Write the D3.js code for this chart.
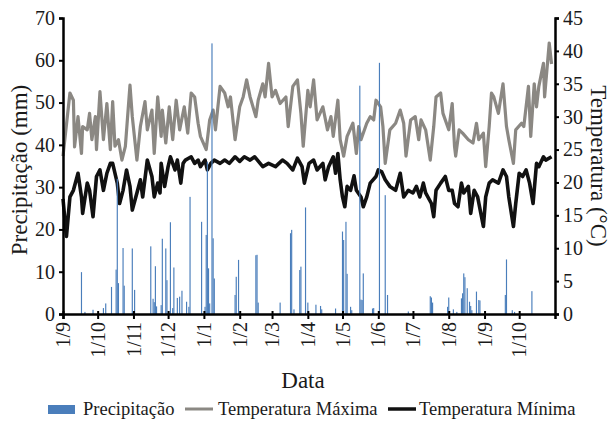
<!DOCTYPE html>
<html>
<head>
<meta charset="utf-8">
<script src="https://cdnjs.cloudflare.com/ajax/libs/d3/7.8.5/d3.min.js"></script>
<style>
  body { margin: 0; background: #fff; }
  svg text { font-family: "Liberation Serif", "Times New Roman", serif; fill: #1a1a1a; }
</style>
</head>
<body>
<script>
// day = days since 1 Sep (first year)
var tmaxDay = [0,6,9,10,13,16,17,21,23,25,28,29,32,35,38,41,43,45,48,51,54,58,60,64,67,71,73,77,79,82,85,86,89,92,95,98,101,105,108,111,114,117,119,124,127,130,132,136,140,143,145,149,153,156,159,162,167,169,173,175,178,181,184,188,193,195,199,203,206,208,212,214,217,220,225,229,232,234,238,240,243,246,251,254,256,258,263,266,269,271,275,277,279,283,288,292,295,297,301,305,308,310,314,318,321,323,327,329,334,337,339,340,343,346,351,355,358,360,364,366,369,371,373,377,381,384,386,390,392,397,399,403,405,408,410,412,416,417,419,421,423];
var tmax = [24,33.6,32.5,25.4,30,24.4,28.5,28,30.5,26.5,30,25,33.8,26.5,32,25,32.3,25.5,26.5,23.4,25.5,34.8,30,23.4,28.5,32.3,28,31,24.4,33,27,31,26,31.5,26.5,32.5,28,31.5,27.5,33.6,33,29,27,25,29.5,31,28,34.6,33.6,31.5,33,26.5,31.5,33,35.6,33,30,32.5,35,33,38.1,33,34,32,33,28.5,34.6,35.6,30.5,25.5,34,31.5,35.6,29.5,31.5,28,30,27,32.5,26.5,24,27,29,24.4,28.5,26.5,29,30,29.5,32.5,31.5,28.5,22.9,28,29,31,29,24,29.5,30,26.5,29.5,28,23.4,28.5,33,33.6,30.5,28,32,25.5,24,28,27.5,26.5,26,29,26.5,27.5,22.4,28.5,33.6,33,30.5,35,28.5,26.5,22.9,28,29,28.5,34.6,27,35,31.5,34.6,38.1,33,37.1,41.2,38];

var tminDay = [0,3,6,9,13,16,17,21,23,26,29,32,35,38,41,43,47,49,52,55,58,60,64,67,69,73,77,79,82,84,85,88,91,93,97,99,102,104,106,111,114,117,119,123,125,128,131,136,140,144,149,153,157,162,166,173,178,184,190,194,199,203,207,209,213,217,220,225,227,230,234,236,238,240,242,244,246,249,252,254,258,260,263,266,271,273,276,279,283,288,292,295,299,303,306,309,312,314,319,321,323,327,331,334,337,339,342,345,347,351,353,356,359,364,366,369,372,377,381,384,386,390,392,395,398,401,404,407,410,412,416,418,423];
var tmin = [17.5,11.8,17.8,18.8,21.4,17.8,15.3,19.9,18.8,14.8,20.9,21.9,18.8,21.4,22.9,22.9,19.9,16.8,18.8,21.9,19.4,15.8,18.4,20.4,17.8,23.4,20.9,17.8,19.9,18.4,22.9,19.4,22.4,23.9,21.9,23.4,19.9,22.9,23.4,23.9,22.9,23.4,22.4,23.4,21.9,22.9,23.4,22.9,23.4,22.9,23.9,23.2,23.9,23.4,23.9,22.4,22.9,22.4,23.4,22.9,21.9,23.7,22.4,19.9,22.9,23.4,21.9,22.9,20.4,22.4,23.9,21.4,24.4,20.4,17.8,16.3,19.4,18.8,21,18.8,17.8,16.3,17.8,19.9,20.9,21.9,21.6,20.4,19.4,18.8,21.4,17.8,18.8,18.4,19.4,17.8,19.9,18.4,16.8,14.8,18.8,19.9,20.9,18.8,18.8,16.8,16.3,19.9,18.4,19.4,15.3,18.8,17.8,13.3,17.8,19.9,20.4,19.9,21.9,20.9,17.8,13.3,16.8,21.4,20.9,21.9,19.9,16.8,22.9,22.4,23.9,23.4,23.9];

var rainDay = [16,19,26,35,37,42,46,47,48,52,53,60,62,76,78,79,80,81,85,86,89,90,93,95,96,99,101,103,107,109,110,120,123,124,125,126,127,129,130,131,149,150,152,167,168,169,188,197,198,200,205,206,210,212,219,223,224,236,242,243,245,246,249,250,257,258,259,260,268,269,274,279,281,299,318,319,320,333,334,338,341,345,346,347,348,350,352,353,354,358,360,361,383,384,389,391,406];
var rain = [9.9,0.5,1,1.4,2.5,6.4,10.5,32,7.3,15.6,6.7,15.5,5.7,16,3.6,2.8,11.3,1.8,2.1,17.8,15.5,8,21.7,1.4,11,3.8,4.1,5.5,2.9,1.7,27.7,21.8,1.7,18.7,36,10.8,2.5,64,17.9,8.4,4.5,8.8,12.8,13.9,14,2.7,2.7,19.1,19.9,1.1,10.4,11.2,25.2,2.7,2.2,1.9,1.1,1.3,19.5,17.5,21.8,9.5,1.7,0.9,54,3.4,3.3,9.6,1.3,1.4,59.4,28.1,4.5,0.6,4.2,3.9,2.7,1.7,3.9,1.1,0.5,3.7,4.9,9.6,8.7,6.1,2.9,1.9,0.9,5.3,3.3,3.2,4.5,12.9,0.9,0.5,5.4];

var rainTicks = [0,10,20,30,40,50,60,70];
var tempTicks = [0,5,10,15,20,25,30,35,40,45];
var legendNames = ["Precipitação", "Temperatura Máxima", "Temperatura Mínima"];

var start = new Date(2017, 8, 1);
var end = new Date(2018, 10, 1);
function day(d) { return d3.timeDay.offset(start, d); }

var margin = {top: 18, right: 58, bottom: 107, left: 63},
    W = 613, H = 421,
    width = W - margin.left - margin.right,
    height = H - margin.top - margin.bottom;

var svg = d3.select("body").append("svg").attr("width", W).attr("height", H);
var g = svg.append("g").attr("transform", `translate(${margin.left},${margin.top})`);

var x = d3.scaleTime().domain([start, end]).range([0, width]);
var yP = d3.scaleLinear().domain([0, 70]).range([height, 0]);
var yT = d3.scaleLinear().domain([0, 45]).range([height, 0]);

var blue = "#4a7ebb", grey = "#8b8883", black = "#111";

// temperature lines
var line = function(days, vals) {
    return d3.line()
        .x(function (d, i) { return x(day(days[i])); })
        .y(function (d) { return yT(d); })(vals);
};
g.append("path").attr("d", line(tmaxDay, tmax))
    .attr("fill", "none").attr("stroke", grey).attr("stroke-width", 3.2)
    .attr("stroke-linejoin", "round");
g.append("path").attr("d", line(tminDay, tmin))
    .attr("fill", "none").attr("stroke", black).attr("stroke-width", 3.6)
    .attr("stroke-linejoin", "round");

// rain bars
var bw = x(day(1)) - x(day(0));
g.selectAll(".bar").data(rain).enter().append("rect")
    .attr("class", "bar")
    .attr("x", function (d, i) { return x(day(rainDay[i])) - bw / 2; })
    .attr("width", bw)
    .attr("y", function (d) { return yP(d); })
    .attr("height", function (d) { return height - yP(d); })
    .attr("fill", blue);

// axes
function styleAxis(sel) {
    sel.select(".domain").attr("stroke", "#000").attr("stroke-width", 2.5);
    sel.selectAll(".tick line").attr("stroke", "#000").attr("stroke-width", 2);
    sel.selectAll("text").attr("font-family", "Liberation Serif").attr("fill", "#1a1a1a");
}

var monthTicks = d3.timeMonth.range(start, new Date(2018, 9, 2));
var xAx = g.append("g").attr("transform", `translate(0,${height})`)
    .call(d3.axisBottom(x).tickValues(monthTicks).tickFormat(d3.timeFormat("%-d/%-m"))
        .tickSizeOuter(0).tickSize(5));
xAx.selectAll(".tick line").attr("y1", -3);
xAx.selectAll("text")
    .attr("font-size", 20)
    .attr("transform", "rotate(-90)")
    .attr("x", -8).attr("y", 0).attr("dy", "0.33em")
    .attr("text-anchor", "end");
styleAxis(xAx);

var yAxL = g.append("g")
    .call(d3.axisLeft(yP).tickValues(rainTicks).tickSizeOuter(0).tickSize(4).tickPadding(4));
yAxL.selectAll("text").attr("font-size", 20);
styleAxis(yAxL);

var yAxR = g.append("g").attr("transform", `translate(${width},0)`)
    .call(d3.axisRight(yT).tickValues(tempTicks).tickSizeOuter(0).tickSize(4).tickPadding(4));
yAxR.selectAll("text").attr("font-size", 20);
styleAxis(yAxR);

// titles
svg.append("text")
    .attr("transform", "translate(27,170) rotate(-90)")
    .attr("text-anchor", "middle").attr("font-size", 23)
    .text("Precipitação (mm)");
svg.append("text")
    .attr("transform", "translate(591,166) rotate(90)")
    .attr("text-anchor", "middle").attr("font-size", 23)
    .text("Temperatura (°C)");
svg.append("text")
    .attr("x", 303).attr("y", 388)
    .attr("text-anchor", "middle").attr("font-size", 23)
    .text("Data");

// legend
var lg = svg.append("g").attr("transform", "translate(0,409)");
lg.append("rect").attr("x", 48).attr("y", -4).attr("width", 27).attr("height", 9).attr("fill", blue);
lg.append("text").attr("x", 83).attr("y", 6).attr("font-size", 18.5).text(legendNames[0]);
lg.append("line").attr("x1", 185).attr("x2", 213).attr("y1", 0).attr("y2", 0)
    .attr("stroke", grey).attr("stroke-width", 3);
lg.append("text").attr("x", 218).attr("y", 6).attr("font-size", 18.5).text(legendNames[1]);
lg.append("line").attr("x1", 388).attr("x2", 416).attr("y1", 0).attr("y2", 0)
    .attr("stroke", black).attr("stroke-width", 3.5);
lg.append("text").attr("x", 419).attr("y", 6).attr("font-size", 18.5).text(legendNames[2]);
</script>
</body>
</html>
